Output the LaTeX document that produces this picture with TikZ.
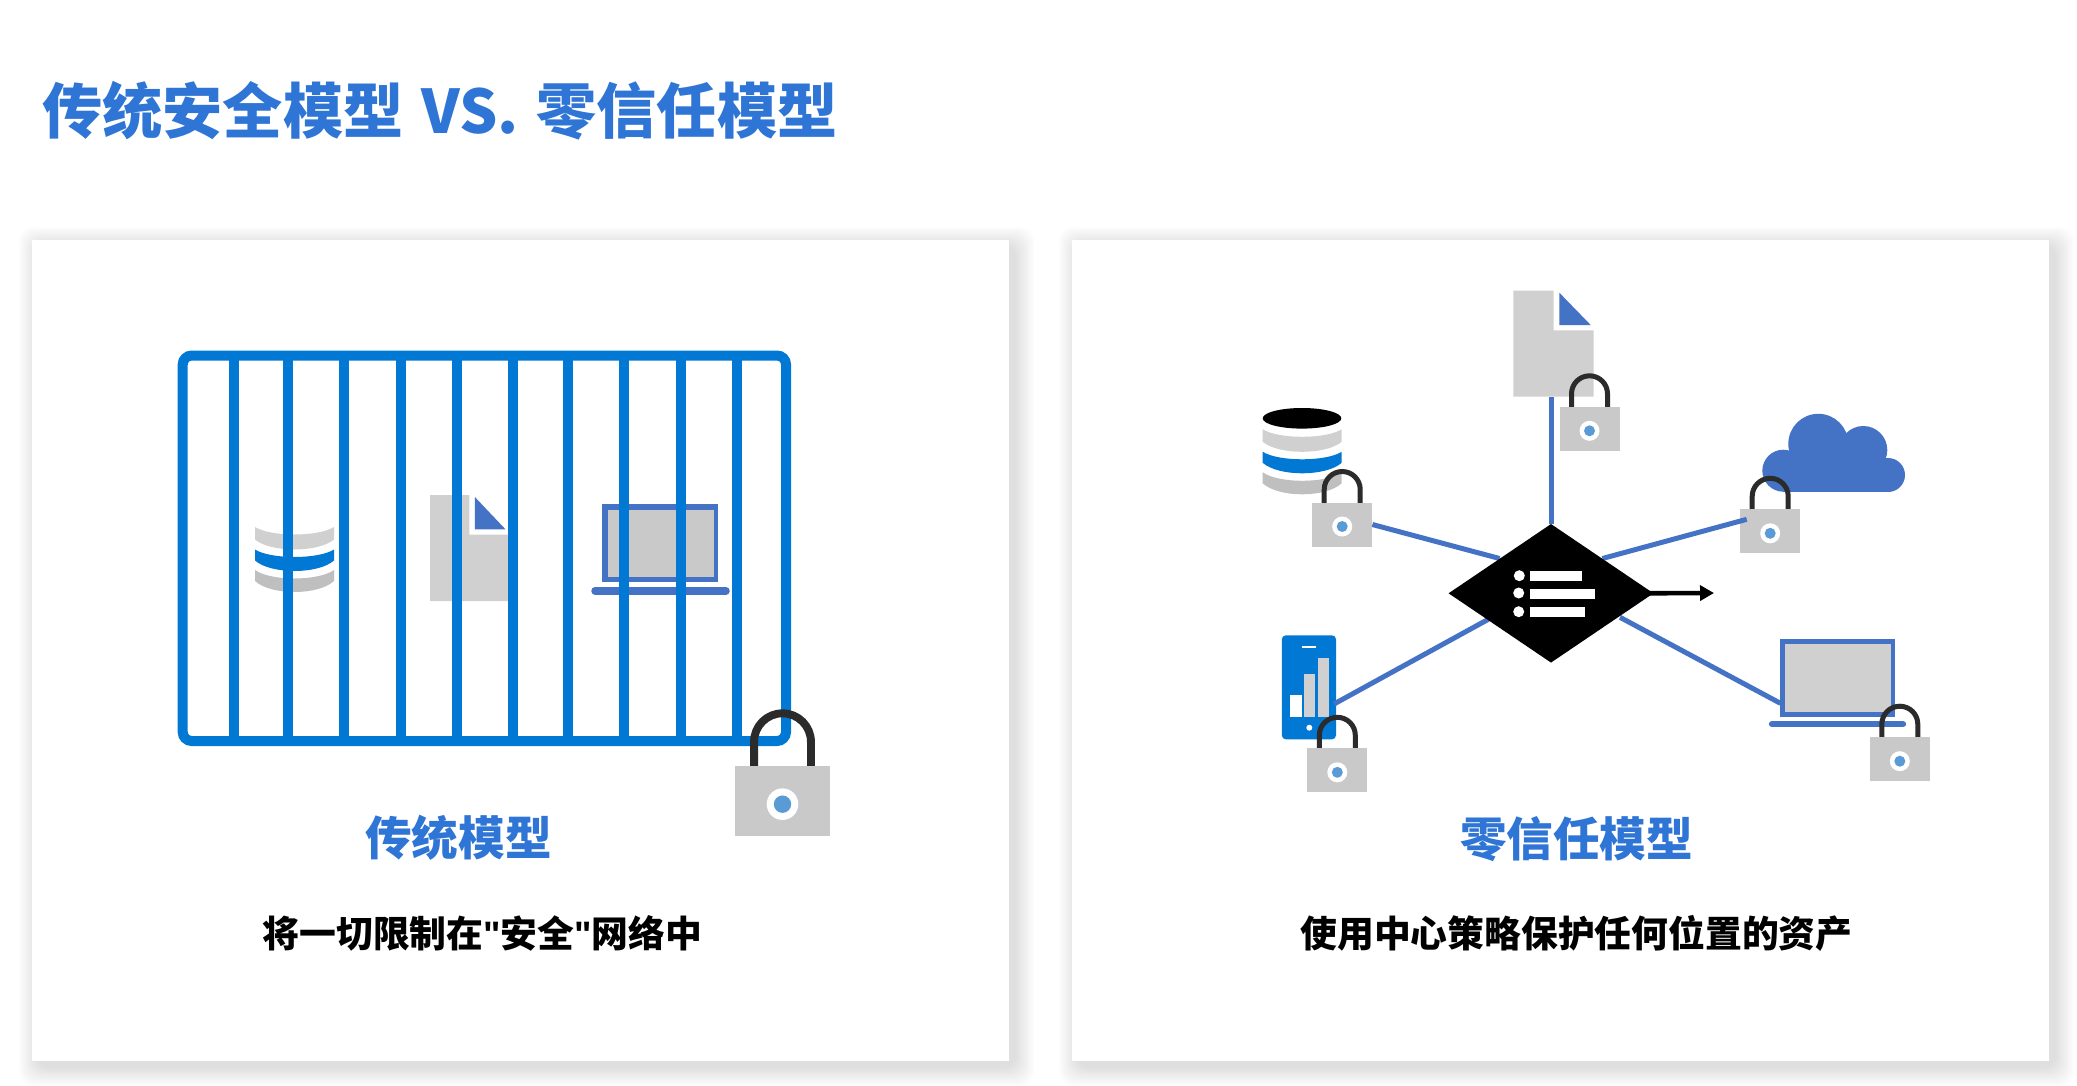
\documentclass[tikz,border=0pt]{standalone}
\usepackage{fontspec}
\setmainfont[Ligatures=ResetAll]{Noto Sans CJK SC}
\newfontfamily\quotefont[Ligatures=ResetAll]{Liberation Sans}
\usetikzlibrary{shapes.geometric,arrows.meta}
\pgfdeclarelayer{toplayer}
\pgfsetlayers{main,toplayer}
\definecolor{titleblue}{HTML}{2E75D6}
\definecolor{barblue}{HTML}{0078D4}
\definecolor{linkblue}{HTML}{4472C4}
\definecolor{docgray}{HTML}{D0D0D0}
\definecolor{lockgray}{HTML}{C9C9C9}
\definecolor{lowgray}{HTML}{BFBFBF}
\definecolor{shacklegray}{HTML}{2B2B2B}
\definecolor{dotblue}{HTML}{5B9BD5}
\tikzset{
  card/.style={fill=white,draw=none,minimum width=977pt,minimum height=821pt,inner sep=0pt},
  fence/.style={draw=barblue,line width=10pt},
  link/.style={draw=linkblue,line width=5pt},
  headtext/.style={font=\fontsize{46.6}{50}\selectfont\bfseries,text=titleblue,inner sep=0pt},
  subtext/.style={font=\fontsize{36.8}{40}\selectfont\bfseries,text=black,inner sep=0pt},
  plainrect/.style={rectangle,inner sep=0pt,draw=none},
}
% shadow of a card: #1,#2 corners
\newcommand{\cardshadow}[4]{%
  \foreach \k in {1,...,16}{
    \fill[black,opacity=0.009,rounded corners=14pt]
      ({#1+6-(17-\k)*1.2},{#2+6-(17-\k)*1.2}) rectangle ({#3+6+(17-\k)*1.2},{#4+6+(17-\k)*1.2});
  }}
% lock: name, x, y, scale, shackle arc centre (in small units)
\newcommand{\lockicon}[5]{%
  \pgfmathsetmacro{\lw}{60*#4}\pgfmathsetmacro{\lh}{44*#4}\pgfmathsetmacro{\ls}{5*#4}%
  \begin{scope}[shift={(#2,#3)},scale=#4]
    \draw[shacklegray,line width=\ls pt] (-18,-21) -- (-18,#5) arc[start angle=180,end angle=360,radius=18] -- (18,-21);
    \node[plainrect,fill=lockgray,minimum width=\lw pt,minimum height=\lh pt] (#1) at (0,0) {};
    \fill[white] (0,2) circle[radius=10];
    \fill[dotblue] (0,2) circle[radius=5.5];
  \end{scope}}
% database band: colour, left, right, top side, top mid, bottom side, bottom mid
\newcommand{\dbband}[7]{%
  \pgfmathsetmacro{\ct}{(#5)+((#5)-(#4))*0.333}\pgfmathsetmacro{\cb}{(#7)+((#7)-(#6))*0.333}%
  \fill[#1] (#2,#4) .. controls ({#2+16},\ct) and ({#3-16},\ct) .. (#3,#4)
    -- (#3,#6) .. controls ({#3-16},\cb) and ({#2+16},\cb) .. (#2,#6) -- cycle;}
\newcommand{\dbbands}[3]{% x, y, top colour
  \dbband{#3}{#1}{#1+79}{#2+11}{#2+18.5}{#2+23.5}{#2+33.5}
  \dbband{barblue}{#1}{#1+79}{#2+33.5}{#2+41}{#2+44.5}{#2+55}
  \dbband{lowgray}{#1}{#1+79}{#2+54}{#2+62.5}{#2+65}{#2+76}}
% document: name, left, top, x scale
\newcommand{\docicon}[4]{%
  \begin{scope}[shift={(#2,#3)},xscale=#4]
    \fill[docgray] (0,0) -- (40.4,0) -- (40.4,39.6) -- (80.4,39.6) -- (80.4,106) -- (0,106) -- cycle;
    \fill[linkblue] (46,2) -- (46,34.3) -- (77.4,34.3) -- cycle;
    \coordinate (#1) at (40,106);
  \end{scope}}
\begin{document}
\begin{tikzpicture}[x=1pt,y=-1pt]
\useasboundingbox (0,0) rectangle (2077,1085);
\fill[white] (0,0) rectangle (2077,1085);

% title
\node[anchor=west,inner sep=0pt,text=titleblue,font=\fontsize{60.2}{64}\selectfont\bfseries] (title) at (42,111) {传统安全模型\hspace{4pt} VS.\hspace{4pt} 零信任模型};

% cards
\cardshadow{32}{240}{1009}{1061}
\cardshadow{1072}{240}{2049}{1061}
\node[card] (cardL) at (520.5,650.5) {};
\node[card] (cardR) at (1560.5,650.5) {};

% ---------- left: traditional model
\dbbands{255}{516}{docgray}
\docicon{docL}{430}{495}{0.975}
\node[plainrect,fill=linkblue,minimum width=116pt,minimum height=78pt] (lapL) at (660,543) {};
\node[plainrect,fill=lockgray,minimum width=106pt,minimum height=67pt] (lapLscreen) at (660.5,543.8) {};
\draw[linkblue,line width=7.5pt,line cap=round] (595,590.8) -- (726,590.8);

\draw[fence,rounded corners=9pt] (182.7,355.5) rectangle (786,741);
\foreach \bx in {233.5,288,344,400.6,457,513.4,568,624,680.5,737}{
  \draw[draw=barblue,line width=10pt] (\bx,355.5) -- (\bx,741);
}
\lockicon{lockL}{782.5}{801}{1.58}{-37.5}

\node[headtext] (headL) at (458.5,838) {传统模型};
\node[subtext] (subL) at (482.5,933) {将一切限制在{\quotefont"}安全{\quotefont"}网络中};

% ---------- right: zero trust model
\docicon{docR}{1513.3}{290.7}{1}
% database
\fill[black] (1302,418.3) ellipse[x radius=39.3,y radius=10.3];
\dbbands{1262.7}{418.3}{docgray}
% phone
\node[plainrect,fill=barblue,rounded corners=4pt,minimum width=54.2pt,minimum height=104pt] (phone) at (1308.9,687.3) {};
\fill[white] (1302,646) rectangle (1315.8,647.6);
\fill[white] (1290,695.3) rectangle (1301.5,717.3);
\fill[docgray] (1303.8,674) rectangle (1315.3,717.3);
\fill[docgray] (1317.6,657.7) rectangle (1329,717.3);
\fill[white] (1309.3,727.7) circle[radius=3];
% laptop
\node[plainrect,fill=linkblue,minimum width=114.8pt,minimum height=78.3pt] (lapR) at (1837.8,678.2) {};
\node[plainrect,fill=docgray,minimum width=105.6pt,minimum height=67.4pt] (lapRscreen) at (1837.8,678) {};
\draw[linkblue,line width=6.3pt,line cap=round] (1772,724.2) -- (1903,724.2);
% cloud
\fill[linkblue] (1783.3,470.7) circle[radius=21];
\fill[linkblue] (1818.3,443.8) circle[radius=30];
\fill[linkblue] (1863.3,450) circle[radius=24];
\fill[linkblue] (1888,475) circle[radius=17];
\fill[linkblue] (1783.3,460) rectangle (1888,492);

% hub, its list icon and the arrow sit above the connectors
\begin{pgfonlayer}{toplayer}
\node[diamond,fill=black,inner sep=0pt,minimum width=205pt,minimum height=138.7pt,shape aspect=1.478] (hub) at (1551,593.3) {};
\coordinate (arrowEnd) at (1714,593);
\draw[black,line width=4.6pt,-{Triangle[width=15pt,length=14pt]}] ([xshift=-14pt]hub.east) -- (arrowEnd);
\fill[white] (1519.3,575.7) circle[radius=5.5] (1518.7,593) circle[radius=5.5] (1518.7,611.7) circle[radius=5.5];
\fill[white] (1530.3,570.7) rectangle (1581.7,580.7);
\fill[white] (1530.3,589.3) rectangle (1595.3,599.3);
\fill[white] (1530.3,606.7) rectangle (1585,616.7);
\end{pgfonlayer}
\coordinate (hubSW) at (1488.3,619.3);
\coordinate (hubSE) at (1620,617.3);
\coordinate (phoneEnd) at (1334,704);
\coordinate (lapEnd) at (1780.4,703.3);
\coordinate (cloudEnd) at (1746.7,519.3);

\lockicon{lockDoc}{1589.5}{428.8}{1}{-35}
\lockicon{lockDB}{1342.2}{524.5}{1}{-35}
\lockicon{lockCloud}{1770.2}{531.3}{1}{-35}
\lockicon{lockPhone}{1337.3}{770.3}{1}{-35}
\lockicon{lockLap}{1899.8}{759.2}{1}{-35}

\draw[link] (hub.north |- docR) -- (hub.north);
\draw[link] (lockDB.east) -- (hub.north west);
\draw[link] (cloudEnd) -- (hub.north east);
\draw[link] (phoneEnd) -- (hubSW);
\draw[link] (lapEnd) -- (hubSE);

\node[headtext] (headR) at (1576.5,839.5) {零信任模型};
\node[subtext] (subR) at (1576.5,933) {使用中心策略保护任何位置的资产};
\end{tikzpicture}
\end{document}
